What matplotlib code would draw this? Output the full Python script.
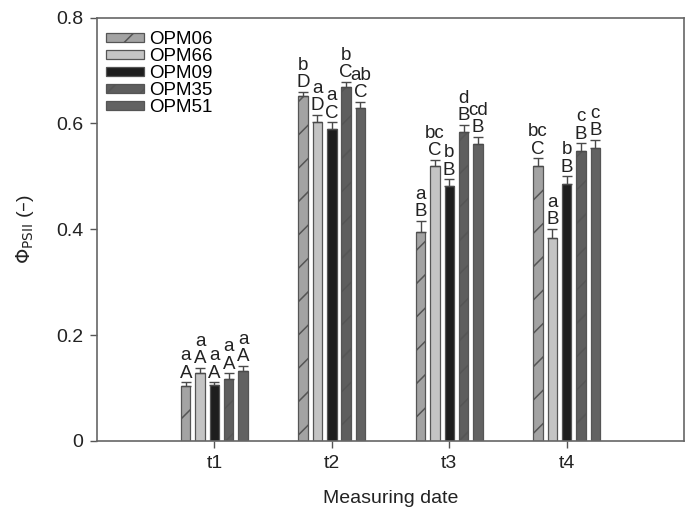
import numpy as np
import matplotlib
matplotlib.use("Agg")
import matplotlib.pyplot as plt

plt.rcParams['font.family'] = ['Liberation Sans', 'DejaVu Sans']
plt.rcParams['hatch.color'] = '#2e2e2e'
plt.rcParams['hatch.linewidth'] = 1.1

dates = ['t1', 't2', 't3', 't4']
genotypes = ['OPM06', 'OPM66', 'OPM09', 'OPM35', 'OPM51']

opm06 = [0.104, 0.652, 0.395, 0.519]
opm66 = [0.128, 0.603, 0.520, 0.383]
opm09 = [0.105, 0.589, 0.482, 0.485]
opm35 = [0.118, 0.669, 0.584, 0.548]
opm51 = [0.132, 0.630, 0.561, 0.553]

err06 = [0.007, 0.007, 0.021, 0.015]
err66 = [0.010, 0.013, 0.011, 0.018]
err09 = [0.006, 0.013, 0.012, 0.015]
err35 = [0.010, 0.009, 0.013, 0.014]
err51 = [0.010, 0.011, 0.013, 0.016]

upper06 = ['A', 'D', 'B', 'C']
upper66 = ['A', 'D', 'C', 'B']
upper09 = ['A', 'C', 'B', 'B']
upper35 = ['A', 'C', 'B', 'B']
upper51 = ['A', 'C', 'B', 'B']

lower06 = ['a', 'b', 'a', 'bc']
lower66 = ['a', 'a', 'bc', 'a']
lower09 = ['a', 'a', 'b', 'b']
lower35 = ['a', 'b', 'd', 'c']
lower51 = ['a', 'ab', 'cd', 'c']

values = [opm06, opm66, opm09, opm35, opm51]
errors = [err06, err66, err09, err35, err51]
uppers = [upper06, upper66, upper09, upper35, upper51]
lowers = [lower06, lower66, lower09, lower35, lower51]

colors = ['#a3a3a3', '#c4c4c4', '#1e1e1e', '#5e5e5e', '#626262']
hatches = ['/', '', '', '/', '']

fig = plt.figure(figsize=(6.91, 5.09), dpi=100)
ax = fig.add_axes([0.1404, 0.1336, 0.8495, 0.832])

x = np.arange(1, len(dates) + 1)
width = 0.08
step = 0.122

for i, g in enumerate(genotypes):
    pos = x + (i - 2) * step
    ax.bar(pos, values[i], width, color=colors[i], edgecolor='#555555',
           linewidth=0.9, hatch=hatches[i], label=g, zorder=2)
    ax.errorbar(pos, values[i], yerr=[np.zeros(len(dates)), errors[i]],
                fmt='none', ecolor='#4a4a4a', elinewidth=1.0, capsize=3.5,
                capthick=1.0, zorder=3)
    for j in range(len(dates)):
        top = values[i][j] + errors[i][j]
        ax.annotate(uppers[i][j], (pos[j], top), xytext=(0, 0.5),
                    textcoords='offset points', ha='center', va='bottom',
                    fontsize=13.5, color='#222222')
        ax.annotate(lowers[i][j], (pos[j], top), xytext=(0, 13),
                    textcoords='offset points', ha='center', va='bottom',
                    fontsize=13.5, color='#222222')

ax.set_xlim(0, 5)
ax.set_ylim(0, 0.8)
ax.set_xticks(x)
ax.set_xticklabels(dates)
ax.set_yticks([0, 0.2, 0.4, 0.6, 0.8])
ax.set_yticklabels(['0', '0.2', '0.4', '0.6', '0.8'])
ax.tick_params(direction='out', length=5, width=1, color='#555555',
               labelsize=14, labelcolor='#222222', pad=5)
for s in ax.spines.values():
    s.set_color('#666666')
    s.set_linewidth(1.2)

ax.set_xlabel('Measuring date', fontsize=14, color='#222222', labelpad=13)
ax.set_ylabel(r'$\Phi_{\mathrm{PSII}}$ (–)', fontsize=14, color='#222222',
              labelpad=14)

ax.legend(loc='upper left', bbox_to_anchor=(0.0154, 0.968), frameon=False,
          fontsize=13.5, handlelength=2.0, handleheight=0.4,
          labelspacing=0.0, handletextpad=0.3, borderpad=0,
          borderaxespad=0)

fig.savefig('out.png', dpi=100)
